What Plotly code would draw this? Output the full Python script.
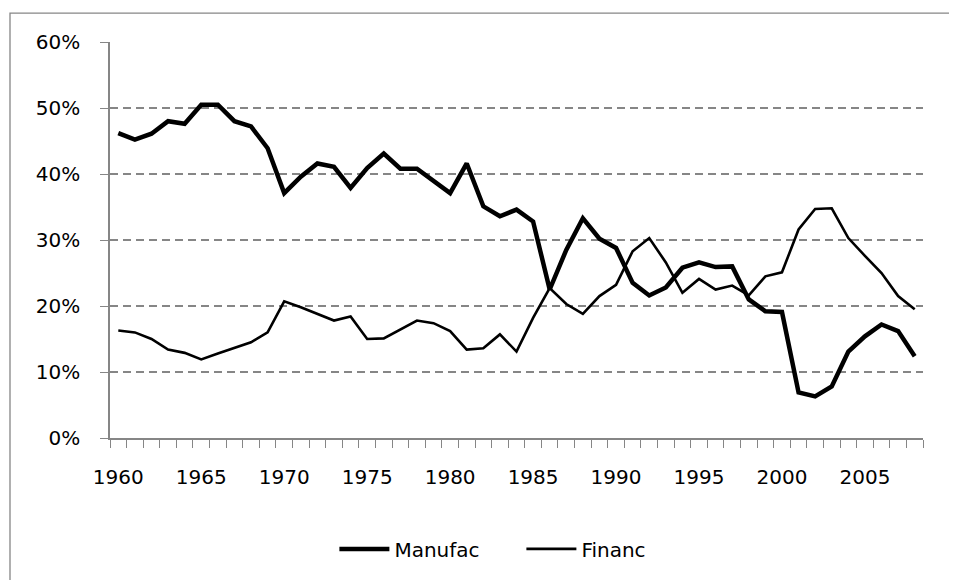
import plotly.graph_objects as go

years = list(range(1960, 2009))

manufac = [
    46.2, 45.2, 46.1, 48.0, 47.6, 50.5, 50.5, 48.0, 47.2, 43.9,
    37.1, 39.6, 41.6, 41.1, 37.9, 40.9, 43.1, 40.8, 40.8, 38.9,
    37.1, 41.6, 35.1, 33.6, 34.6, 32.8, 22.5, 28.5, 33.3, 30.2,
    28.8, 23.5, 21.6, 22.8, 25.8, 26.6, 25.9, 26.0, 21.0, 19.2,
    19.1, 6.9, 6.3, 7.8, 13.1, 15.4, 17.2, 16.2, 12.4,
]
financ = [
    16.3, 16.0, 15.0, 13.4, 12.9, 11.9, 12.8, 13.7, 14.5, 16.0,
    20.7, 19.8, 18.8, 17.8, 18.4, 15.0, 15.1, 16.5, 17.8, 17.4,
    16.2, 13.4, 13.6, 15.7, 13.1, 18.2, 22.7, 20.3, 18.8, 21.5,
    23.2, 28.3, 30.3, 26.6, 22.0, 24.1, 22.5, 23.1, 21.6, 24.5,
    25.1, 31.6, 34.7, 34.8, 30.3, 27.6, 25.0, 21.5, 19.5,
]
label_years = [1960, 1965, 1970, 1975, 1980, 1985, 1990, 1995, 2000, 2005]

font = dict(family="'DejaVu Sans', sans-serif", size=20, color="#000000")
axis_grey = "#868686"

fig = go.Figure()
fig.add_trace(go.Scatter(
    x=years, y=[v / 100 for v in manufac], name="Manufac",
    mode="lines", line=dict(color="#000000", width=4.5),
))
fig.add_trace(go.Scatter(
    x=years, y=[v / 100 for v in financ], name="Financ",
    mode="lines", line=dict(color="#000000", width=2.6),
))

# page body adds 8px, so margins are shifted to keep the plot area in place
fig.update_layout(
    width=957, height=580,
    margin=dict(l=102, r=42, t=34, b=150),
    plot_bgcolor="#ffffff", paper_bgcolor="#ffffff",
    font=font,
    showlegend=True,
    legend=dict(
        orientation="h", x=0.276, xanchor="left", y=-0.28, yanchor="middle",
        itemwidth=50, entrywidth=122, font=font,
        bgcolor="rgba(0,0,0,0)",
    ),
    shapes=[dict(
        type="rect", xref="paper", yref="paper",
        x0=-0.123, x1=1.2, y0=-0.5, y1=1.073,
        line=dict(color=axis_grey, width=1.3), layer="below",
    )],
)

fig.update_xaxes(
    range=[1959.5, 2008.5],
    tickmode="array", tickvals=label_years, ticks="",
    ticklabelstandoff=20,
    showgrid=False, zeroline=False,
    showline=True, linecolor=axis_grey, linewidth=1.5,
    minor=dict(ticks="outside", ticklen=8, tickcolor=axis_grey, tickwidth=1.3,
               tick0=1959.5, dtick=1, showgrid=False),
)
fig.update_yaxes(
    range=[0, 0.6], dtick=0.1, tickformat=".0%",
    ticks="outside", ticklen=8, tickcolor=axis_grey, tickwidth=1.3,
    ticklabelstandoff=16,
    showgrid=True, gridcolor=axis_grey, gridwidth=1.5, griddash="8px,5px",
    zeroline=False,
    showline=True, linecolor=axis_grey, linewidth=1.5,
)

fig.write_html("out.html")
